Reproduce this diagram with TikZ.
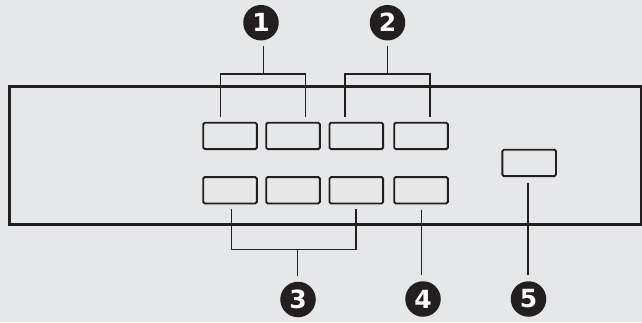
\documentclass[tikz,border=0pt]{standalone}
\usepackage{fontspec}
\newfontfamily\numfont{DejaVu Sans}[BoldFont={DejaVu Sans Bold}]
\definecolor{bgc}{HTML}{E6E7E8}
\definecolor{ink}{HTML}{231F20}
\tikzset{
  panelbox/.style={draw=ink, line width=3.3pt, inner sep=0pt, minimum width=632.2pt, minimum height=137.4pt},
  keybox/.style={draw=ink, line width=1.9pt, rounded corners=1.5pt, inner sep=0pt, minimum width=53.6pt, minimum height=26.4pt},
  numcirc/.style={circle, fill=ink, inner sep=0pt, minimum size=35.5pt, outer sep=6pt, text=white, font=\numfont\bfseries\fontsize{25}{25}\selectfont},
  lead/.style={draw=ink, line width=1.4pt}
}
\begin{document}
\begin{tikzpicture}[x=1pt,y=-1pt]
\fill[bgc] (0,0) rectangle (642,322);
\useasboundingbox (0,0) rectangle (642,322);
\node[panelbox] (panel) at (325.4,155.5) {};
% top row
\node[keybox] (t1) at (230,135.9) {};
\node[keybox] (t2) at (293,135.9) {};
\node[keybox] (t3) at (356.3,135.9) {};
\node[keybox] (t4) at (421,135.9) {};
% bottom row
\node[keybox] (b1) at (230,190.3) {};
\node[keybox] (b2) at (293,190.3) {};
\node[keybox] (b3) at (356.3,190.3) {};
\node[keybox] (b4) at (421,190.3) {};
% right box
\node[keybox] (r1) at (529.2,162.9) {};
% numbers
\node[numcirc] (n1) at (261,22.7) {1};
\node[numcirc] (n2) at (387.5,22.7) {2};
\node[numcirc] (n3) at (298,299.5) {3};
\node[numcirc] (n4) at (423,299) {4};
\node[numcirc] (n5) at (528.5,299) {5};
% bracket 1
\coordinate (l1a) at (220.7,116.7);
\coordinate (l1b) at (305.7,116.7);
\coordinate (j1) at (263.3,74);
\draw[lead] (l1a) |- (j1) -| (l1b);
\draw[lead] (j1) -- (j1 |- n1.south);
% bracket 2
\coordinate (l2a) at (345,116.7);
\coordinate (l2b) at (430,116.7);
\coordinate (j2) at (387.7,74);
\draw[lead] (l2a) |- (j2) -| (l2b);
\draw[lead] (j2) -- (j2 |- n2.south);
% bracket 3
\coordinate (l3a) at (231.3,208.5);
\coordinate (l3b) at (356,208.5);
\coordinate (j3) at (297.6,249.3);
\draw[lead] (l3a) |- (j3) -| (l3b);
\draw[lead] (j3) -- (j3 |- n3.north);
% line 4
\coordinate (l4) at (421.7,209.5);
\draw[lead] (l4) -- (l4 |- n4.north);
% line 5
\coordinate (l5) at (528,182.5);
\draw[lead] (l5) -- (l5 |- n5.north);
\end{tikzpicture}
\end{document}
